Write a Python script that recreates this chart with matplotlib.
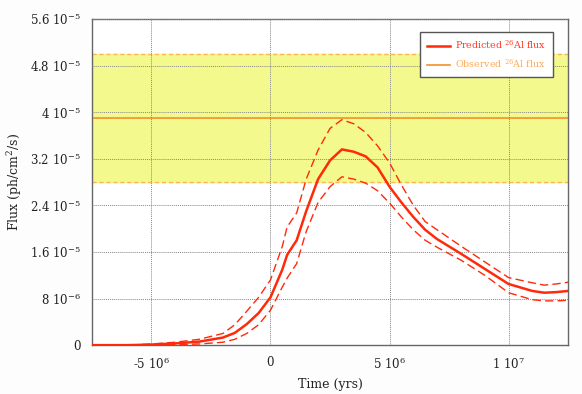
import matplotlib
matplotlib.use("Agg")
import matplotlib.pyplot as plt
import numpy as np

# time in Myr, flux in units of 1e-5 ph/cm^2/s
time_myr = [-7.5, -6, -5, -4, -3, -2, -1.5, -1, -0.5, 0, 0.5, 0.7, 1.1, 1.5, 2, 2.5,
            3, 3.5, 4, 4.5, 5, 5.5, 6, 6.5, 7, 8, 9, 10, 11, 11.5, 12, 12.5]
flux_pred = [0, 0, 0.01, 0.03, 0.06, 0.13, 0.21, 0.36, 0.55, 0.82, 1.3, 1.55, 1.8, 2.3, 2.85, 3.17,
             3.36, 3.32, 3.24, 3.05, 2.72, 2.45, 2.2, 1.98, 1.82, 1.57, 1.31, 1.05, 0.93, 0.90, 0.91, 0.93]
flux_upper = [0, 0, 0.02, 0.05, 0.1, 0.2, 0.35, 0.58, 0.82, 1.12, 1.7, 2.03, 2.27, 2.85, 3.35, 3.72,
              3.87, 3.80, 3.65, 3.42, 3.13, 2.75, 2.4, 2.12, 1.98, 1.7, 1.43, 1.16, 1.07, 1.03, 1.05, 1.08]
flux_lower = [0, 0, 0.0, 0.01, 0.02, 0.05, 0.1, 0.2, 0.35, 0.6, 1.0, 1.15, 1.4, 1.95, 2.45, 2.72,
              2.89, 2.85, 2.78, 2.65, 2.44, 2.2, 1.98, 1.8, 1.68, 1.46, 1.2, 0.9, 0.78, 0.76, 0.76, 0.77]

obs_flux = 3.9
obs_low = 2.8
obs_high = 5.0

yticks = [0, 0.8, 1.6, 2.4, 3.2, 4.0, 4.8, 5.6]
ytick_labels = ["0", r"8 10$^{-6}$", r"1.6 10$^{-5}$", r"2.4 10$^{-5}$", r"3.2 10$^{-5}$",
                r"4 10$^{-5}$", r"4.8 10$^{-5}$", r"5.6 10$^{-5}$"]
xticks = [-5, 0, 5, 10]
xtick_labels = [r"-5 10$^{6}$", "0", r"5 10$^{6}$", r"1 10$^{7}$"]

plt.rcParams["font.family"] = ["DejaVu Serif"]
plt.rcParams["mathtext.fontset"] = "dejavuserif"

t = np.array(time_myr) * 1e6
scale = 1e-5

fig = plt.figure(figsize=(5.82, 3.94), dpi=100)
fig.patch.set_facecolor("#fdfdfd")
ax = fig.add_axes([0.158, 0.124, 0.818, 0.828])

red = "#ff2a0a"
orange = "#f5902a"
band_edge = "#ffb45a"

ax.axhspan(obs_low * scale, obs_high * scale, color="#f3f98c", zorder=0)
ax.axhline(obs_low * scale, color=band_edge, lw=1, ls=(0, (3, 2)), zorder=1)
ax.axhline(obs_high * scale, color=band_edge, lw=1, ls=(0, (3, 2)), zorder=1)
ax.axhline(obs_flux * scale, color=orange, lw=1.2, zorder=2, label=r"Observed $^{26}$Al flux")

ax.plot(t, np.array(flux_upper) * scale, color=red, lw=1, ls=(0, (6, 3)), zorder=3)
ax.plot(t, np.array(flux_lower) * scale, color=red, lw=1, ls=(0, (6, 3)), zorder=3)
ax.plot(t, np.array(flux_pred) * scale, color=red, lw=1.8, zorder=4, label=r"Predicted $^{26}$Al flux")

ax.set_xlim(-7.5e6, 12.5e6)
ax.set_ylim(0, 5.6e-5)
ax.set_xticks(np.array(xticks) * 1e6)
ax.set_xticklabels(xtick_labels)
ax.set_yticks(np.array(yticks) * scale)
ax.set_yticklabels(ytick_labels)
ax.tick_params(length=0, labelsize=8.5, colors="#222222", pad=8)
ax.grid(True, color="#888888", ls=(0, (1, 1)), lw=0.7, zorder=1)
ax.set_axisbelow(False)
for s in ax.spines.values():
    s.set_color("#666666")
    s.set_linewidth(1)

ax.set_xlabel("Time (yrs)", fontsize=9, color="#222222")
ax.set_ylabel(r"Flux (ph/cm$^{2}$/s)", fontsize=9, color="#222222")

handles, labels = ax.get_legend_handles_labels()
leg = ax.legend(handles[::-1], labels[::-1], loc="upper right", bbox_to_anchor=(0.968, 0.96),
                fontsize=6.8, frameon=True, fancybox=False, framealpha=1, handlelength=2.5,
                handletextpad=0.5, borderpad=0.7, labelspacing=0.7, borderaxespad=0)
leg.get_frame().set_edgecolor("#555555")
leg.get_frame().set_linewidth(1)
leg.get_texts()[0].set_color("#ff3a2a")
leg.get_texts()[1].set_color("#ffaa55")

fig.savefig("out.png", dpi=100, facecolor=fig.get_facecolor())
